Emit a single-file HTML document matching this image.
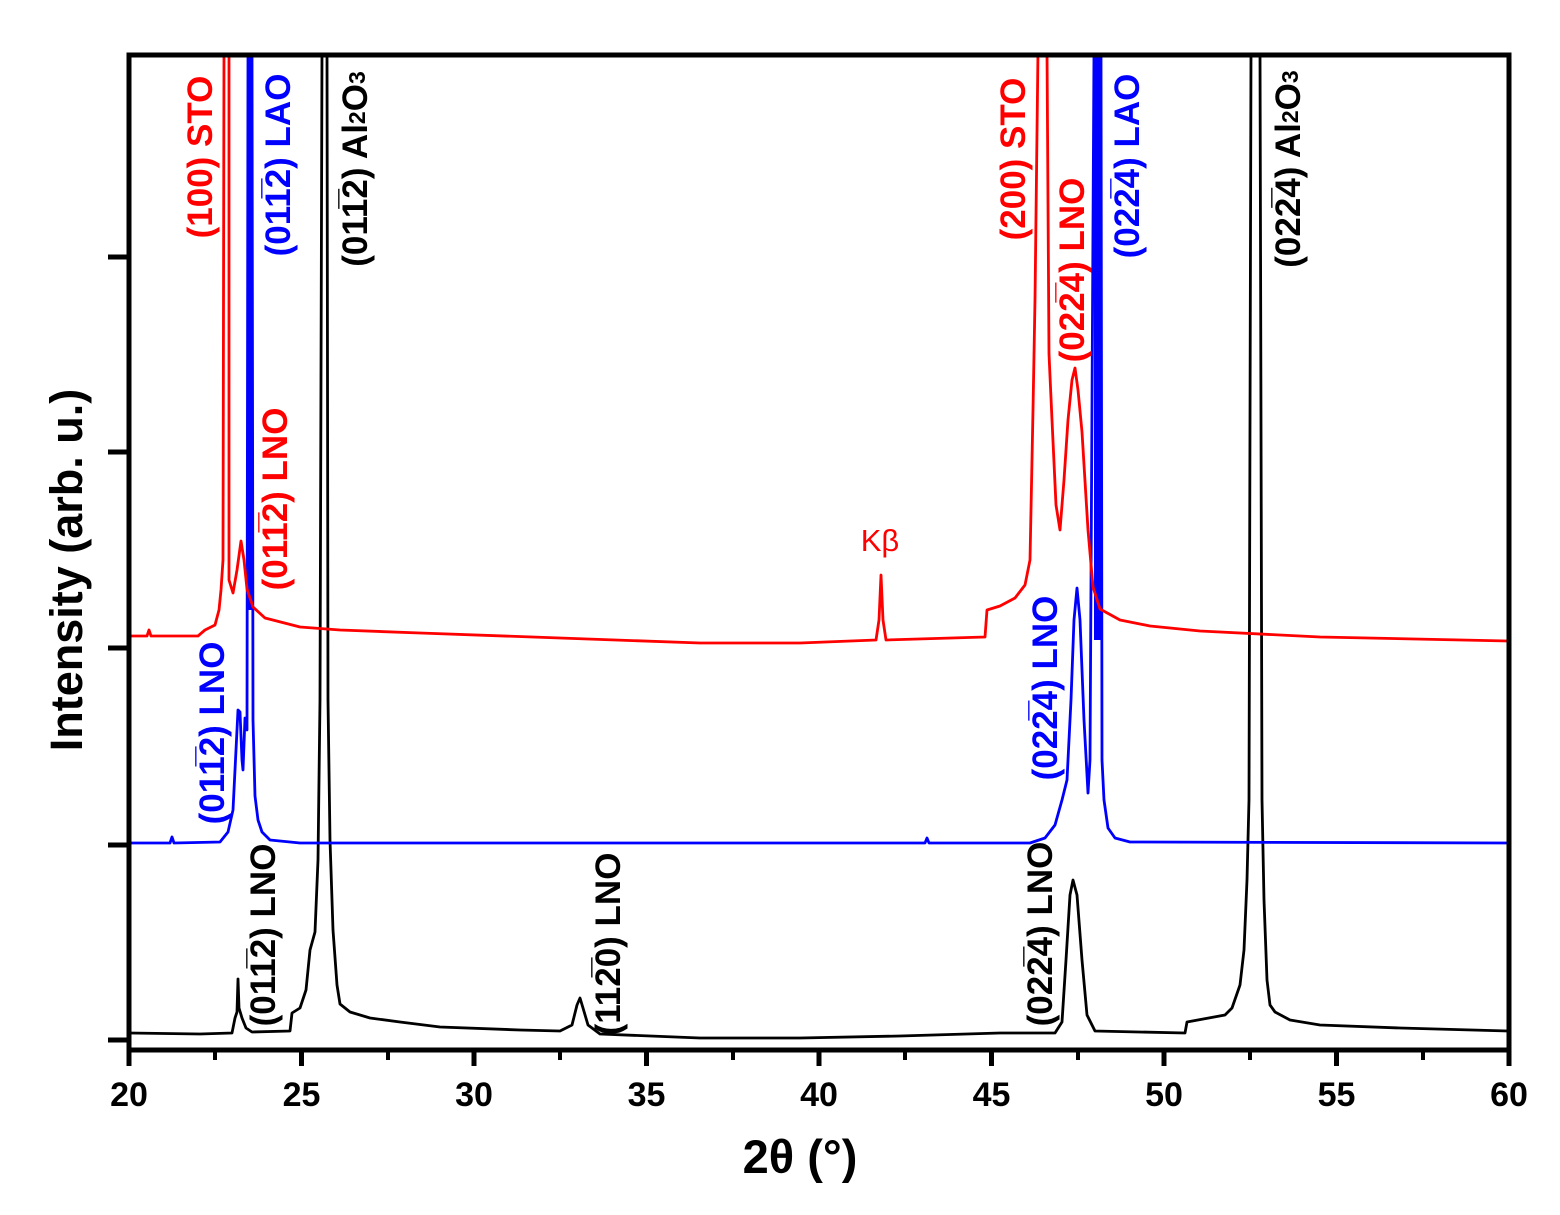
<!DOCTYPE html>
<html><head><meta charset="utf-8"><style>
html,body{margin:0;padding:0;background:#fff;}
svg{display:block;font-family:"Liberation Sans",Arial,sans-serif;}
</style></head><body>
<svg width="1560" height="1215" viewBox="0 0 1560 1215" xmlns="http://www.w3.org/2000/svg">
<defs><clipPath id="c"><rect x="129" y="55" width="1380" height="995"/></clipPath></defs>
<g clip-path="url(#c)" fill="none" stroke-linejoin="round" stroke-width="2.8">
<path stroke="#000" d="M129,1033 L200,1034 L232,1033 L235,1018 L237,1012 L238,979 L239,1008 L242,1018 L246,1028 L252,1032 L290,1031 L292,1013 L300,1008 L306,990 L310,950 L315,932 L318,860 L320,700 L322,50 L327,50 L328,700 L330,840 L333,930 L337,985 L340,1004 L350,1012 L370,1018 L400,1022 L440,1027 L520,1030 L560,1031 L572,1025 L577,1005 L580,998 L583,1008 L588,1025 L600,1034 L700,1038 L800,1038 L900,1036 L1000,1033 L1055,1033 L1062,1022 L1066,960 L1070,895 L1073,880 L1077,895 L1082,960 L1087,1015 L1095,1031 L1185,1033 L1187,1022 L1225,1015 L1232,1008 L1240,985 L1244,950 L1247,880 L1249,800 L1251,50 L1260,50 L1262,800 L1264,900 L1267,980 L1270,1005 L1275,1012 L1290,1020 L1320,1025 L1400,1028 L1508,1031"/>
<path stroke="#00f" d="M129,843 L170,843 L172,837 L174,843 L220,842 L228,832 L233,810 L236,750 L238,710 L240,712 L242,760 L243,770 L245,718 L247,730 L248,50 L252,50 L253,720 L255,796 L258,820 L262,832 L270,840 L300,843 L925,843 L927,838 L929,843 L1030,843 L1045,838 L1055,825 L1062,800 L1067,780 L1071,700 L1074,620 L1077,588 L1080,620 L1084,720 L1088,793 L1090,760 L1094,50 L1101,50 L1102,760 L1104,800 L1108,828 L1115,838 L1130,842 L1508,843"/>
<rect x="247.5" y="50" width="5" height="560" fill="#00f" stroke="none"/>
<rect x="1094" y="50" width="7" height="590" fill="#00f" stroke="none"/>
<path stroke="#f00" d="M129,636 L147,636 L149,630 L151,636 L198,636 L205,630 L215,625 L219,610 L221,590 L223,560 L224,50 L229,50 L229,580 L233,593 L237,570 L241,541 L244,560 L247,589 L253,607 L265,618 L300,627 L340,630 L420,633 L560,638 L700,643 L800,643 L876,640 L879,620 L881,575 L883,620 L886,640 L985,637 L987,610 L1000,606 L1015,598 L1025,585 L1030,560 L1033,410 L1035,300 L1038,50 L1047,50 L1049,354 L1052,420 L1056,505 L1060,530 L1064,480 L1068,420 L1072,380 L1075,368 L1078,390 L1082,432 L1088,530 L1093,587 L1100,609 L1120,620 L1150,626 L1200,631 L1320,637 L1508,641"/>
</g>
<g stroke="#000" stroke-width="5" fill="none">
<rect x="129" y="55" width="1380" height="995"/>
<path d="M108,257H129M108,452H129M108,648H129M108,845H129M108,1040H129"/>
<path d="M129,1050V1066M301.5,1050V1066M474,1050V1066M646.5,1050V1066M819,1050V1066M991.5,1050V1066M1164,1050V1066M1336.5,1050V1066M1509,1050V1066"/>
<path stroke-width="4" d="M215,1050V1060M388,1050V1060M560,1050V1060M733,1050V1060M905,1050V1060M1078,1050V1060M1250,1050V1060M1423,1050V1060"/>
</g>
<g font-size="34" font-weight="bold" text-anchor="middle" fill="#000">
<text x="129" y="1106">20</text><text x="301.5" y="1106">25</text><text x="474" y="1106">30</text><text x="646.5" y="1106">35</text><text x="819" y="1106">40</text><text x="991.5" y="1106">45</text><text x="1164" y="1106">50</text><text x="1336.5" y="1106">55</text><text x="1509" y="1106">60</text>
</g>
<text x="800" y="1173" font-size="47" font-weight="bold" text-anchor="middle">2θ (°)</text>
<text transform="translate(82,570) rotate(-90)" font-size="45" font-weight="bold" text-anchor="middle">Intensity (arb. u.)</text>
<g font-size="35" font-weight="bold" text-anchor="middle">
<text fill="#f00" transform="translate(212,157) rotate(-90)">(100) STO</text>
<text fill="#00f" transform="translate(290,165) rotate(-90)">(01&#x0031;&#x0305;2) LAO</text>
<text fill="#000" transform="translate(367,169) rotate(-90)">(01&#x0031;&#x0305;2) Al<tspan font-size="23" dy="-2">2</tspan><tspan dy="2">O</tspan><tspan font-size="23" dy="-2">3</tspan></text>
<text fill="#f00" transform="translate(287,499) rotate(-90)">(01&#x0031;&#x0305;2) LNO</text>
<text fill="#00f" transform="translate(224,733) rotate(-90)">(01&#x0031;&#x0305;2) LNO</text>
<text fill="#000" transform="translate(275,935) rotate(-90)">(01&#x0031;&#x0305;2) LNO</text>
<text fill="#000" transform="translate(620,944) rotate(-90)">(11&#x0032;&#x0305;0) LNO</text>
<text fill="#f00" transform="translate(1025,159) rotate(-90)">(200) STO</text>
<text fill="#f00" transform="translate(1084,270) rotate(-90)">(02&#x0032;&#x0305;4) LNO</text>
<text fill="#00f" transform="translate(1139,166) rotate(-90)">(02&#x0032;&#x0305;4) LAO</text>
<text fill="#000" transform="translate(1300,169) rotate(-90)">(02&#x0032;&#x0305;4) Al<tspan font-size="23" dy="-2">2</tspan><tspan dy="2">O</tspan><tspan font-size="23" dy="-2">3</tspan></text>
<text fill="#00f" transform="translate(1057,688) rotate(-90)">(02&#x0032;&#x0305;4) LNO</text>
<text fill="#000" transform="translate(1052,934) rotate(-90)">(02&#x0032;&#x0305;4) LNO</text>
</g>
<text x="880" y="551" font-size="31" fill="#f00" text-anchor="middle">Kβ</text>
</svg>
</body></html>
